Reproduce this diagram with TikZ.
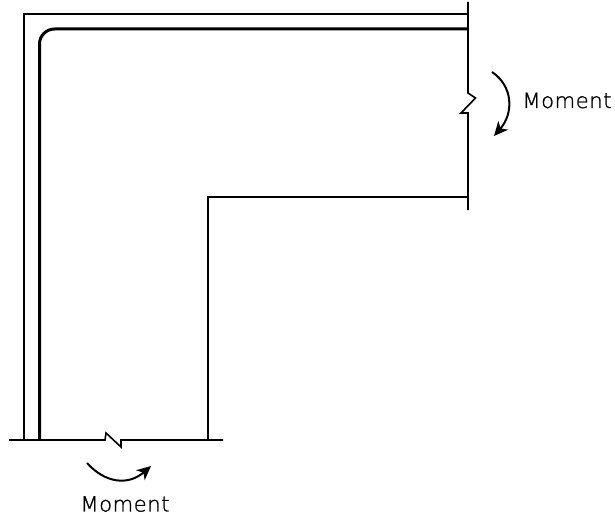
\documentclass[tikz,border=0pt]{standalone}
\usepackage{fontspec}
\setmainfont{DejaVu Sans ExtraLight}[LetterSpace=3,FakeBold=1.2]
\usetikzlibrary{arrows.meta}
\tikzset{
  thinline/.style={line width=1.6pt,black},
  thickline/.style={line width=3pt,black},
  mainline/.style={line width=2.2pt,black},
  moment/.style={line width=2pt,black,-{Stealth[length=14pt,width=13pt,inset=4pt]}},
  lbl/.style={inner sep=0pt,anchor=center,font=\fontsize{21pt}{24pt}\selectfont}
}
\begin{document}
\begin{tikzpicture}[x=1pt,y=-1pt]
\useasboundingbox (0,0) rectangle (615,516);
% outer face
\draw[mainline] (24,440) -- (24,14) -- (468,14);
% reinforcing bar
\draw[thickline,rounded corners=15pt] (39.5,440) -- (39.5,29) -- (468,29);
% inner face
\draw[mainline] (208,440) -- (208,197) -- (468,197);
% right break line
\draw[thinline] (468,2) -- (468,93) -- (475.5,98) -- (461,113) -- (468,113) -- (468,210);
% bottom break line
\draw[thinline] (9,440) -- (105,440) -- (106,433) -- (121,447) -- (121,440) -- (223,440);
% moment arrows
\draw[moment] (87,463) .. controls (105,483) and (128,486) .. (151,466);
\draw[moment] (492,72) .. controls (513,86) and (514,113) .. (494,136);
% labels
\node[lbl] (mb) at (125,504) {Moment};
\node[lbl] (mr) at (567,100.5) {Moment};
\end{tikzpicture}
\end{document}
